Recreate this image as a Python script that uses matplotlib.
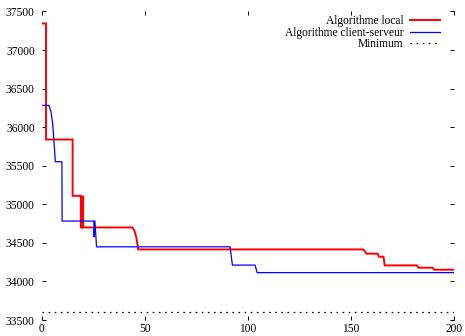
import matplotlib
matplotlib.use("Agg")
import matplotlib.pyplot as plt

# Data
red_x = [0, 2.1, 2.1, 15, 15, 19, 19, 19.6, 19.6, 20.1, 20.1, 44, 45, 46, 46.8,
         156, 157.6, 163, 163.6, 165.8, 166.4, 182, 182.8, 189.6, 190.4, 200]
red_y = [37345, 37345, 35840, 35840, 35110, 35110, 34700, 34700, 35100, 35100, 34700,
         34700, 34660, 34560, 34415, 34415, 34360, 34360, 34320, 34320, 34208,
         34208, 34178, 34178, 34152, 34152]

blue_x = [0, 3.5, 4.5, 5.3, 6.0, 6.6, 9.8, 9.9, 25.3, 25.4, 25.8, 26.6,
          91.4, 92.5, 103.5, 104.5, 200]
blue_y = [36283, 36283, 36200, 36050, 35800, 35552, 35552, 34783, 34783, 34580,
          34783, 34449, 34449, 34212, 34212, 34114, 34114]

min_x = [0, 200]
min_y = [33608, 33608]

labels = ["Algorithme local", "Algorithme client-serveur", "Minimum"]
xticks = [0, 50, 100, 150, 200]
yticks = [33500, 34000, 34500, 35000, 35500, 36000, 36500, 37000, 37500]

plt.rcParams['font.family'] = ['Liberation Serif', 'DejaVu Serif']

fig = plt.figure(figsize=(4.65, 3.36), dpi=100)
ax = fig.add_axes([0.0897, 0.0476, 0.8866, 0.9182])

ax.plot(red_x, red_y, color='#ff0000', lw=1.4, label=labels[0], solid_joinstyle='miter')
ax.plot(blue_x, blue_y, color='#0000ff', lw=0.9, label=labels[1])
ax.plot(min_x, min_y, color='black', lw=0.9, linestyle=(0, (1.3, 3.6)), label=labels[2])

ax.set_xlim(0, 200)
ax.set_ylim(33500, 37500)
ax.set_xticks(xticks)
ax.set_yticks(yticks)
for s in ax.spines.values():
    s.set_visible(False)
ax.tick_params(direction='in', length=3, width=0.7, top=True, right=True,
               labelsize=8.3, colors='black')
ax.tick_params(axis='y', pad=5)
ax.tick_params(axis='x', pad=2)

leg = ax.legend(loc='upper right', bbox_to_anchor=(0.978, 1.003), frameon=False,
                markerfirst=False, fontsize=8.3, handlelength=2.6,
                handletextpad=0.6, labelspacing=-0.05, borderaxespad=0.0)

fig.savefig('out.png', dpi=100)
